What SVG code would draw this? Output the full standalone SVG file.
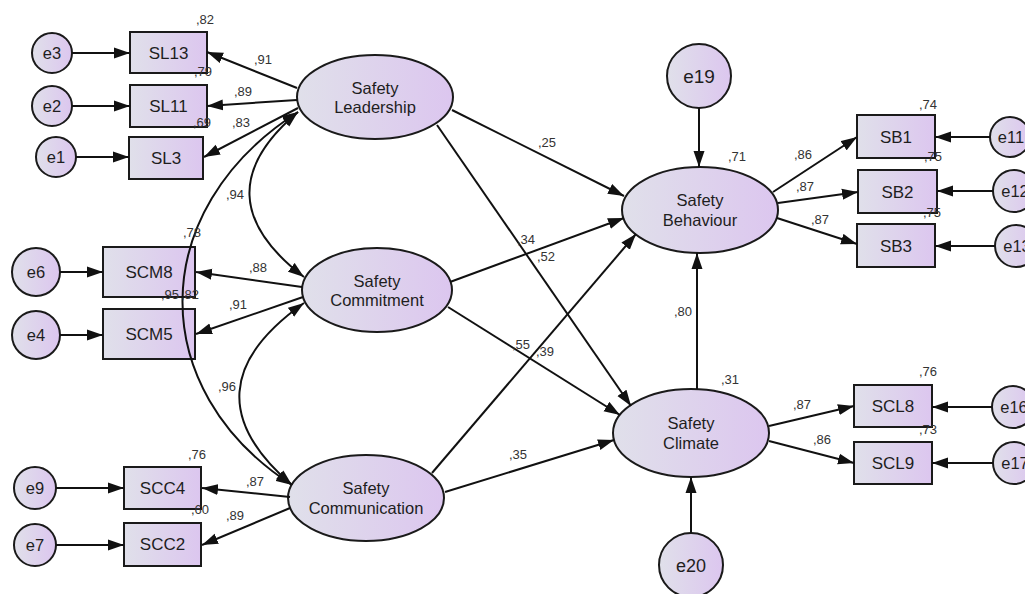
<svg xmlns="http://www.w3.org/2000/svg" width="1025" height="594" viewBox="0 0 1025 594">
<defs>
<linearGradient id="fill" x1="0" y1="0" x2="1" y2="0">
<stop offset="0" stop-color="#e0e0ea"/>
<stop offset="1" stop-color="#dcc6ef"/>
</linearGradient>
<marker id="ah" markerUnits="userSpaceOnUse" markerWidth="17" markerHeight="12" refX="16" refY="6" orient="auto-start-reverse">
<path d="M0,0.5 L16,6 L0,11.5 z" fill="#111"/>
</marker>
<style>
.sh{fill:url(#fill);stroke:#1a1a1a;stroke-width:2}
.ln{fill:none;stroke:#111;stroke-width:2;marker-end:url(#ah)}
.dl{fill:none;stroke:#111;stroke-width:2;marker-start:url(#ah);marker-end:url(#ah)}
.t{font-family:"Liberation Sans",Arial,sans-serif;fill:#1e1e1e;text-anchor:middle}
.ob{font-size:17px}
.lt{font-size:16.5px}
.er{font-size:16.5px}
.v{font-family:"Liberation Sans",Arial,sans-serif;fill:#333;text-anchor:middle;font-size:13px}
</style>
</defs>
<rect width="1025" height="594" fill="#fff"/>

<g id="e3"><circle class="sh" cx="52" cy="53" r="20"/><text class="t er" x="52" y="59">e3</text></g>
<g id="e2"><circle class="sh" cx="52" cy="106" r="20"/><text class="t er" x="52" y="112">e2</text></g>
<g id="e1"><circle class="sh" cx="56" cy="157" r="20"/><text class="t er" x="56" y="163">e1</text></g>
<g id="e6"><circle class="sh" cx="36" cy="272" r="24"/><text class="t er" x="36" y="278">e6</text></g>
<g id="e4"><circle class="sh" cx="36" cy="335" r="24"/><text class="t er" x="36" y="341">e4</text></g>
<g id="e9"><circle class="sh" cx="35" cy="488" r="21"/><text class="t er" x="35" y="494">e9</text></g>
<g id="e7"><circle class="sh" cx="35" cy="545" r="21"/><text class="t er" x="35" y="551">e7</text></g>
<g id="e19"><circle class="sh" cx="699" cy="76" r="32"/><text class="t" style="font-size:19px" x="699" y="83">e19</text></g>
<g id="e20"><circle class="sh" cx="691" cy="565" r="32"/><text class="t" style="font-size:18px" x="691" y="572">e20</text></g>
<g id="e11"><circle class="sh" cx="1010" cy="137" r="20"/><text class="t er" x="1011" y="143">e11</text></g>
<g id="e12"><circle class="sh" cx="1014" cy="191" r="21"/><text class="t er" x="1015" y="197">e12</text></g>
<g id="e13"><circle class="sh" cx="1016" cy="246" r="21"/><text class="t er" x="1017" y="252">e13</text></g>
<g id="e16"><circle class="sh" cx="1013" cy="407" r="21"/><text class="t er" x="1014" y="413">e16</text></g>
<g id="e17"><circle class="sh" cx="1014" cy="463" r="21"/><text class="t er" x="1015" y="469">e17</text></g>

<g id="SL13"><rect class="sh" x="130" y="32" width="77" height="41"/><text class="t ob" x="168.5" y="59">SL13</text></g>
<g id="SL11"><rect class="sh" x="130" y="85" width="77" height="42"/><text class="t ob" x="168.5" y="112">SL11</text></g>
<g id="SL3"><rect class="sh" x="129" y="137" width="74" height="42"/><text class="t ob" x="166" y="164">SL3</text></g>
<g id="SCM8"><rect class="sh" x="103" y="247" width="92" height="50"/><text class="t ob" x="149" y="278">SCM8</text></g>
<g id="SCM5"><rect class="sh" x="103" y="309" width="92" height="50"/><text class="t ob" x="149" y="340">SCM5</text></g>
<g id="SCC4"><rect class="sh" x="124" y="467" width="77" height="42"/><text class="t ob" x="162.5" y="494">SCC4</text></g>
<g id="SCC2"><rect class="sh" x="124" y="523" width="77" height="43"/><text class="t ob" x="162.5" y="550">SCC2</text></g>
<g id="SB1"><rect class="sh" x="857" y="115" width="78" height="43"/><text class="t ob" x="896" y="143">SB1</text></g>
<g id="SB2"><rect class="sh" x="858" y="170" width="79" height="43"/><text class="t ob" x="897.5" y="198">SB2</text></g>
<g id="SB3"><rect class="sh" x="857" y="224" width="78" height="43"/><text class="t ob" x="896" y="252">SB3</text></g>
<g id="SCL8"><rect class="sh" x="854" y="385" width="78" height="42"/><text class="t ob" x="893" y="412">SCL8</text></g>
<g id="SCL9"><rect class="sh" x="854" y="442" width="78" height="42"/><text class="t ob" x="893" y="469">SCL9</text></g>

<g id="SafetyLeadership"><ellipse class="sh" cx="375" cy="97" rx="78" ry="42"/><text class="t lt" x="375" y="94">Safety</text><text class="t lt" x="375" y="113">Leadership</text></g>
<g id="SafetyCommitment"><ellipse class="sh" cx="377" cy="290" rx="75" ry="42"/><text class="t lt" x="377" y="287">Safety</text><text class="t lt" x="377" y="306">Commitment</text></g>
<g id="SafetyCommunication"><ellipse class="sh" cx="366" cy="498" rx="78" ry="43"/><text class="t lt" x="366" y="494">Safety</text><text class="t lt" x="366" y="514">Communication</text></g>
<g id="SafetyBehaviour"><ellipse class="sh" cx="700" cy="210" rx="78" ry="43"/><text class="t lt" x="700" y="206">Safety</text><text class="t lt" x="700" y="226">Behaviour</text></g>
<g id="SafetyClimate"><ellipse class="sh" cx="691" cy="433" rx="78" ry="44"/><text class="t lt" x="691" y="429">Safety</text><text class="t lt" x="691" y="449">Climate</text></g>

<g id="connectors">
<path class="ln" d="M72,53 L130,53"/>
<path class="ln" d="M72,106 L130,106"/>
<path class="ln" d="M76,157 L129,157"/>
<path class="ln" d="M60,272 L103,272"/>
<path class="ln" d="M60,335 L103,335"/>
<path class="ln" d="M56,488 L124,488"/>
<path class="ln" d="M56,545 L124,545"/>
<path class="ln" d="M297,88 L207,52"/>
<path class="ln" d="M297,100 L207,106"/>
<path class="ln" d="M298,108 L204,157"/>
<path class="ln" d="M302,287 L196,272"/>
<path class="ln" d="M303,297 L196,334"/>
<path class="ln" d="M290,497 L202,488"/>
<path class="ln" d="M290,508 L202,545"/>
<path class="dl" d="M298,112 Q198,196 304,277"/>
<path class="dl" d="M304,303 Q181,390 292,485"/>
<path class="dl" d="M298,112 C145,210 145,390 292,485"/>
<path class="ln" d="M452,110 L624,196"/>
<path class="ln" d="M437,125 L631,406"/>
<path class="ln" d="M450,282 L624,218"/>
<path class="ln" d="M448,307 L620,415"/>
<path class="ln" d="M432,473 L636,234"/>
<path class="ln" d="M445,492 L614,440"/>
<path class="ln" d="M697,389 L697,253"/>
<path class="ln" d="M699,108 L699,167"/>
<path class="ln" d="M691,533 L691,477"/>
<path class="ln" d="M773,192 L857,137"/>
<path class="ln" d="M778,203 L858,192"/>
<path class="ln" d="M777,218 L857,244"/>
<path class="ln" d="M769,426 L854,406"/>
<path class="ln" d="M769,441 L854,463"/>
<path class="ln" d="M990,137 L935,137"/>
<path class="ln" d="M993,191 L937,191"/>
<path class="ln" d="M995,246 L935,246"/>
<path class="ln" d="M992,407 L932,407"/>
<path class="ln" d="M993,463 L932,463"/>
</g>

<g id="values">
<text class="v" x="205" y="24">,82</text>
<text class="v" x="203" y="76">,79</text>
<text class="v" x="202" y="127">,69</text>
<text class="v" x="263" y="64">,91</text>
<text class="v" x="243" y="96">,89</text>
<text class="v" x="241" y="127">,83</text>
<text class="v" x="235" y="199">,94</text>
<text class="v" x="192" y="237">,78</text>
<text class="v" x="170" y="299">,95</text>
<text class="v" x="190" y="299">,82</text>
<text class="v" x="258" y="272">,88</text>
<text class="v" x="238" y="309">,91</text>
<text class="v" x="227" y="391">,96</text>
<text class="v" x="197" y="459">,76</text>
<text class="v" x="255" y="486">,87</text>
<text class="v" x="200" y="514">,60</text>
<text class="v" x="235" y="520">,89</text>
<text class="v" x="547" y="147">,25</text>
<text class="v" x="526" y="244">,34</text>
<text class="v" x="546" y="261">,52</text>
<text class="v" x="521" y="349">,55</text>
<text class="v" x="545" y="356">,39</text>
<text class="v" x="518" y="459">,35</text>
<text class="v" x="737" y="161">,71</text>
<text class="v" x="803" y="159">,86</text>
<text class="v" x="805" y="191">,87</text>
<text class="v" x="820" y="224">,87</text>
<text class="v" x="928" y="109">,74</text>
<text class="v" x="933" y="161">,75</text>
<text class="v" x="932" y="217">,75</text>
<text class="v" x="683" y="316">,80</text>
<text class="v" x="730" y="384">,31</text>
<text class="v" x="802" y="409">,87</text>
<text class="v" x="822" y="444">,86</text>
<text class="v" x="928" y="376">,76</text>
<text class="v" x="928" y="434">,73</text>
</g>
</svg>
